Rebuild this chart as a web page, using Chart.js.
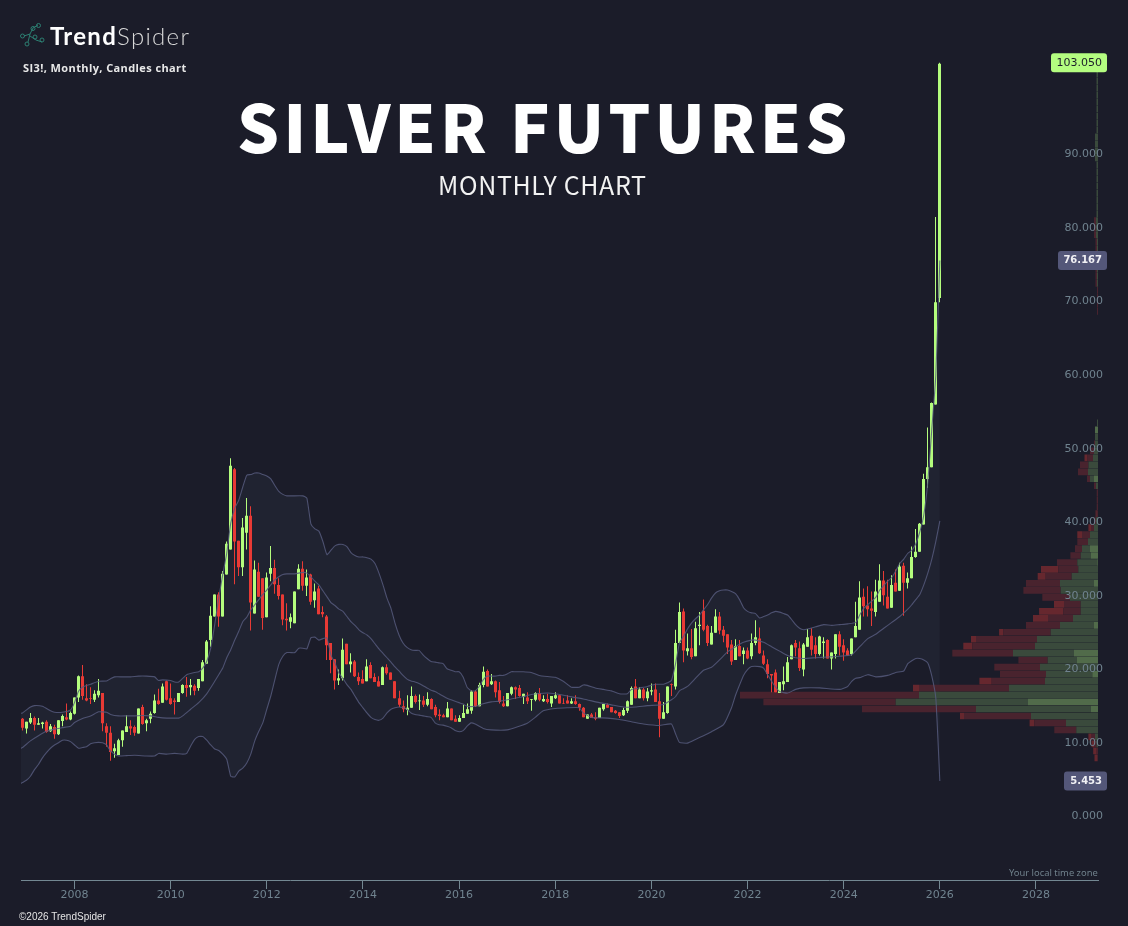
<!DOCTYPE html>
<html>
<head>
<meta charset="utf-8">
<title>Silver Futures Monthly Chart</title>
<script src="https://cdn.jsdelivr.net/npm/chart.js@4/dist/chart.umd.min.js"></script>
<style>
  html, body { margin: 0; padding: 0; background: #1b1c29; }
  #wrap { position: relative; width: 1128px; height: 926px; overflow: hidden; }
  canvas { position: absolute; left: 0; top: 0; }
  .txt { position: absolute; white-space: nowrap; line-height: 1; }
  #headline { left: 237px; top: 76px; font: 900 66px "Noto Sans CJK JP"; letter-spacing: 4.05px; color: #fff; }
  #subline { left: 438px; top: 166px; font: 400 25px "Noto Sans CJK JP"; letter-spacing: .65px; color: #f2f2f2; }
  #brand { left: 50px; top: 21px; font: 700 24px Lato; color: #fff; letter-spacing: 1.3px; }
  #brand span { font-weight: 300; color: #d8d8d8; }
  #symbol { left: 23px; top: 60px; font: 700 11px "Open Sans"; color: #e8e8e8; letter-spacing: .4px; }
  #copyright { left: 19px; top: 911px; font: 400 10px "Liberation Sans"; color: #e4e4e4; }
  #zone { left: 1009px; top: 866px; font: 400 9.4px "Noto Sans"; color: #6f808b; }
  #logo { position: absolute; left: 18px; top: 22px; }
</style>
</head>
<body>
<div id="wrap">
  <canvas id="chart" width="1128" height="926"></canvas>
  <svg id="logo" width="28" height="28" viewBox="0 0 28 28" fill="none" stroke="#2c7f72" stroke-width="1">
    <path d="M6 14 L12 12 M12 12 L15 6 M12 12 L10 20 M15 6 L20 3 M12 14 L18 18 M18 18 L24 20"/>
    <circle cx="4.5" cy="14" r="2"/><circle cx="9" cy="22" r="2"/><circle cx="15" cy="6.5" r="2"/>
    <circle cx="20.5" cy="3.5" r="2"/><circle cx="17" cy="15" r="2"/><circle cx="24" cy="18" r="2"/>
  </svg>
  <div class="txt" id="brand">Trend<span>Spider</span></div>
  <div class="txt" id="symbol">SI3!, Monthly, Candles chart</div>
  <div class="txt" id="headline">SILVER FUTURES</div>
  <div class="txt" id="subline">MONTHLY CHART</div>
  <div class="txt" id="zone">Your local time zone</div>
  <div class="txt" id="copyright">©2026 TrendSpider</div>
</div>
<script>
// Monthly candles, Dec 2006 to Jan 2026
const opens = [
  13.9,12.6,13.4,14.0,13.1,13.2,13.5,12.2,12.8,11.8,13.6,14.1,13.8,
  14.6,16.8,19.7,16.7,16.7,16.5,17.1,17.4,12.9,12.0,9.5,9.0,
  11.0,12.1,12.9,12.8,11.9,15.5,13.3,13.9,14.7,16.4,16.1,19.0,
  16.7,16.4,16.2,17.4,18.5,18.2,18.4,18.1,19.0,21.4,24.6,27.8,
  30.8,27.8,33.5,36.9,47.8,38.1,34.5,39.2,41.5,28.2,33.9,33.0,
  27.7,33.6,34.4,32.1,30.8,27.5,27.1,26.9,31.5,34.3,32.0,33.5,
  30.0,31.6,28.4,27.8,24.2,22.0,19.1,19.4,24.1,21.3,21.7,19.6,
  19.3,19.0,21.2,19.6,19.0,18.5,20.9,20.2,19.0,16.7,15.6,15.1,
  15.4,17.0,16.3,16.4,15.8,16.6,15.5,14.5,14.4,14.1,15.3,13.9,
  13.5,14.0,14.6,15.0,17.6,15.6,18.5,20.4,18.6,19.0,17.8,16.0,
  15.6,17.3,18.2,18.1,16.9,16.8,16.5,16.5,17.4,16.3,16.6,16.0,
  16.7,17.1,16.0,16.4,16.0,16.3,15.9,15.4,13.9,14.5,14.1,14.0,
  15.2,15.8,15.5,15.0,14.8,14.4,15.0,15.8,18.3,16.7,17.9,16.7,
  17.6,17.9,16.3,13.9,14.7,18.6,18.3,24.2,28.5,23.1,23.5,22.4,
  26.5,28.6,26.5,24.0,25.6,27.8,26.0,25.4,24.0,21.9,23.8,22.7,
  23.2,22.4,24.2,24.8,22.5,21.3,20.0,20.2,17.4,18.6,18.9,22.0,
  24.2,23.5,20.6,23.7,25.2,23.9,22.7,24.2,24.6,22.1,22.7,25.4,
  23.9,23.2,22.7,25.0,26.0,30.5,29.3,28.9,28.4,29.8,32.7,30.5,
  29.0,32.4,31.3,34.7,32.4,33.0,35.9,36.6,40.3,46.5,48.1,56.6,71.1
];
const highs = [
  14.0,13.5,14.7,14.2,14.0,13.5,13.7,13.2,13.1,13.7,14.5,16.0,14.9,
  16.8,19.8,21.2,18.6,18.2,17.8,19.3,17.4,13.3,12.9,10.5,11.2,
  12.3,14.4,13.7,13.0,15.3,15.8,13.9,14.9,17.2,18.0,18.7,19.1,
  18.7,16.7,17.4,18.6,19.6,19.3,18.6,19.3,21.9,24.6,29.2,30.8,
  31.1,34.0,38.0,49.3,48.0,38.1,41.2,43.9,42.8,35.4,35.1,33.0,
  33.8,37.4,35.5,33.0,30.8,29.6,28.2,31.2,34.9,35.3,34.2,33.6,
  32.3,32.0,29.2,28.0,24.2,22.0,20.6,24.8,24.1,22.8,21.9,20.2,
  20.5,22.0,21.6,20.1,19.7,21.0,21.3,20.2,19.0,17.7,16.4,17.1,
  18.3,17.2,17.2,17.0,17.5,16.7,15.8,15.2,14.6,16.2,15.3,14.4,
  14.4,15.8,16.0,17.8,17.8,18.8,21.0,20.6,20.0,19.1,18.9,17.0,
  17.4,18.3,18.3,18.5,17.3,17.5,16.6,17.5,18.1,17.1,17.3,17.0,
  17.5,17.1,16.7,17.1,16.7,17.1,16.0,15.5,14.5,14.7,14.8,15.4,
  15.9,16.0,15.5,15.1,14.8,15.4,16.4,18.3,19.3,18.2,18.1,18.1,
  18.7,18.7,17.4,16.2,18.3,18.7,26.0,29.7,28.9,25.5,26.1,27.1,
  28.4,30.1,26.7,26.5,28.8,28.4,26.5,25.4,24.6,24.7,24.6,23.6,
  23.6,25.5,27.3,26.3,23.2,22.0,20.0,20.6,18.9,21.0,22.3,24.0,
  24.6,24.4,24.2,26.1,26.2,25.0,25.2,25.0,24.7,22.9,25.4,25.8,
  24.7,23.5,24.8,29.8,32.6,31.6,31.9,31.2,32.8,34.9,34.0,32.8,
  33.4,34.2,35.1,35.1,33.8,37.3,39.7,40.5,47.2,53.5,56.9,82.1,103.05
];
const lows = [
  12.3,11.9,13.2,12.3,13.1,12.6,12.0,12.1,11.2,11.7,12.9,13.7,13.7,
  14.5,16.2,16.5,16.3,15.9,16.2,16.8,12.2,10.1,8.2,8.6,9.0,
  10.1,12.1,11.7,11.6,11.9,13.1,12.2,13.3,14.6,15.8,16.1,16.4,
  15.8,14.5,16.2,17.3,16.9,17.1,17.1,17.7,19.0,21.4,23.7,27.8,
  26.4,27.8,33.5,36.9,32.2,33.3,33.3,36.9,25.9,28.2,30.5,26.0,
  27.7,32.6,30.9,30.1,26.6,25.9,26.2,26.9,31.5,31.3,30.6,29.4,
  29.0,28.1,27.7,21.9,20.1,17.9,18.5,19.1,21.3,20.2,19.6,18.5,
  18.7,19.0,19.4,18.9,18.3,18.5,19.9,19.2,16.7,15.5,14.8,14.4,
  15.4,16.0,15.1,15.5,15.6,15.2,14.1,13.7,14.1,14.1,13.7,13.5,
  13.5,14.0,14.6,14.6,15.5,15.6,18.2,18.3,18.5,16.8,16.0,15.5,
  15.6,17.1,16.6,16.9,15.9,15.9,15.0,16.3,16.3,16.2,16.0,15.5,
  16.6,16.0,15.9,16.0,15.9,15.8,15.0,14.1,13.9,14.0,13.7,14.0,
  15.0,15.4,14.8,14.6,14.0,14.3,14.7,15.8,16.7,16.7,16.4,16.3,
  17.1,16.2,11.4,13.9,14.6,17.0,17.9,24.2,21.6,22.5,22.0,22.4,
  23.9,25.8,23.8,24.0,25.6,25.4,24.3,22.7,21.2,21.9,22.4,21.3,
  22.0,22.0,23.9,22.7,21.2,19.4,17.5,17.5,17.4,17.8,18.9,22.0,
  22.4,20.4,19.7,23.7,22.5,22.1,22.5,22.1,22.1,20.6,22.1,22.5,
  21.8,22.5,22.5,25.0,26.0,27.8,27.8,26.5,27.8,29.8,29.3,28.9,
  29.0,31.2,31.3,27.9,31.6,33.0,35.8,36.6,40.3,45.3,48.1,56.6,70.5
];
const closes = [
  12.7,13.5,14.0,13.1,13.3,13.4,12.1,12.9,11.8,13.7,14.3,13.8,14.7,
  16.8,19.7,17.0,16.4,16.6,17.3,17.7,13.3,12.0,9.4,9.9,11.0,
  12.3,12.9,12.6,12.0,15.3,13.2,13.7,14.6,16.4,15.9,18.3,16.5,
  15.9,16.2,17.4,18.5,18.1,18.5,17.7,19.3,21.6,24.4,27.9,30.8,
  27.8,33.6,37.7,48.3,38.0,34.5,39.9,41.5,29.7,34.2,30.5,27.6,
  33.1,34.4,32.2,30.6,27.4,27.3,27.7,31.2,34.3,32.0,33.1,29.8,
  31.2,28.1,28.1,23.9,21.9,19.1,19.4,23.3,21.3,21.7,19.7,19.0,
  18.7,21.0,19.4,18.9,18.3,20.9,20.1,19.2,16.7,15.8,15.2,15.4,
  17.0,16.2,16.4,15.8,16.6,15.2,14.4,14.3,14.1,15.3,13.7,13.5,
  14.0,14.7,15.2,17.6,15.6,18.5,20.3,18.3,19.0,17.5,16.2,15.6,
  17.4,18.2,17.9,17.0,17.3,16.3,16.6,17.4,16.5,16.6,16.2,17.0,
  17.1,16.0,15.9,16.0,16.3,15.9,15.4,14.1,14.5,14.0,13.9,15.4,
  15.9,15.4,14.8,14.7,14.3,15.1,16.3,18.1,16.7,17.9,16.7,17.6,
  17.8,16.2,13.9,14.8,18.3,18.5,24.2,28.4,23.2,23.5,22.3,26.2,
  26.7,26.0,24.2,25.6,27.8,25.9,25.2,23.6,21.7,23.8,22.4,23.2,
  22.1,24.2,25.0,22.8,21.4,20.0,19.8,17.5,18.9,19.0,21.6,23.9,
  23.6,20.8,24.0,25.0,23.3,22.7,25.1,24.4,22.1,22.9,25.4,23.7,
  22.9,22.5,24.8,26.5,30.4,29.2,28.8,28.6,31.2,32.7,30.7,28.9,
  32.1,31.2,34.6,32.4,33.0,35.9,36.6,40.4,46.5,48.1,56.8,70.5,102.9
];

// Bollinger bands, read at the months where the curve bends (months counted from Jan 2008)
const upperMonths = [
  -14,-13,-11,-10,-8,-6,-5,-3,-1,0,1,2,4,6,8,9,10,12,14,16,18,20,21,22,24,25,26,27,28,30,31,32,33,34,35,36,37,38,39,40,41,42,43,44,45,46,47,48,49,50,51,52,53,57,58,59,60,61,62,63,64,65,66,67,68,69,70,71,72,73,74,75,76,77,78,79,80,81,82,83,84,85,86,87,88,89,90,91,92,93,94,95,96,97,98,99,100,101,102,103,105,106,107,108,109,110,112,114,116,118,120,122,123,124,126,127,128,130,132,134,136,138,139,141,143,145,147,148,149,150,151,152,153,154,155,156,157,158,159,160,161,162,163,164,165,166,167,168,169,170,171,172,173,174,175,176,177,178,179,180,181,182,183,185,187,189,191,193,195,196,197,198,199,200,201,202,203,204,205,206,207,208,209,210,211,212,213,214,215,216
];
const upperValues = [
  14.6,14.7,15.5,15.7,15.6,15.0,14.8,14.8,15.1,16.1,17.65,18.2,18.6,19.0,19.05,19.35,19.6,19.6,19.6,19.7,19.7,19.6,19.1,19.2,19.1,18.9,18.9,19.4,19.9,20.2,20.3,20.8,21.7,23.5,26.7,30.3,33.5,36.4,40.5,42.5,43.6,45.4,47.0,47.1,47.3,47.3,47.1,46.9,46.5,45.6,44.8,44.4,44.2,44.2,43.9,40.4,39.7,39.4,38.0,36.2,36.8,37.4,37.6,37.6,37.3,36.5,36.1,35.9,35.9,35.8,35.6,35.0,33.7,32.1,30.3,28.9,26.9,25.3,24.2,23.6,23.3,23.2,23.2,22.6,22.1,21.7,21.6,21.5,21.4,20.7,20.5,20.3,20.3,19.6,18.2,17.7,17.7,18.3,19.2,19.7,19.7,19.8,19.8,20.0,20.3,20.3,20.3,20.2,19.8,19.65,19.55,19.0,18.6,18.2,18.2,18.5,18.45,18.1,17.9,17.7,17.3,17.3,17.9,18.1,18.3,18.6,18.6,18.8,19.1,21.3,24.2,25.1,26.1,26.9,27.5,28.0,28.7,29.4,30.3,31.0,31.3,31.4,31.4,31.2,30.9,30.1,29.0,28.5,28.3,28.2,27.6,27.8,28.0,28.3,28.5,28.4,28.2,28.0,27.4,26.7,26.2,26.0,26.1,26.4,26.7,26.6,26.7,26.8,27.0,28.0,28.9,29.4,29.9,30.4,31.4,32.0,32.6,33.1,34.0,35.0,35.6,36.4,36.8,37.7,39.3,41.6,46.1,53.3,60.6,76.167
];
const middleMonths = [
  -14,-13,-11,-9,-7,-5,-3,-1,0,2,4,6,7,8,9,11,13,15,17,19,21,23,25,26,27,29,31,33,35,36,37,38,39,40,41,42,43,44,45,46,47,48,49,50,51,52,53,55,57,58,59,60,61,62,63,64,65,66,67,68,69,70,71,72,73,74,75,76,77,78,79,80,81,82,83,84,85,86,87,88,89,90,91,92,93,94,95,96,97,98,100,102,104,106,109,112,114,118,120,123,127,131,134,137,140,143,147,149,150,151,152,153,155,157,159,161,163,165,167,169,170,172,174,176,178,180,182,185,188,191,194,196,198,200,202,204,206,207,208,209,210,211,212,213,214,215,216
];
const middleValues = [
  9.7,10.0,10.9,11.6,12.2,12.5,12.7,12.9,13.4,13.95,14.3,14.85,14.85,14.8,14.5,14.3,14.3,14.3,14.35,14.3,14.1,14.0,14.0,14.0,14.3,15.2,16.1,17.3,19.0,19.9,20.8,22.2,23.3,24.6,25.8,27.1,27.7,28.7,29.4,30.1,30.8,31.4,32.1,32.8,33.2,33.5,33.6,33.6,33.8,33.7,33.2,32.6,32.1,31.3,30.5,29.7,29.3,28.8,28.5,27.8,27.1,26.6,26.0,25.6,25.3,24.8,24.1,23.4,22.8,22.2,21.6,20.95,20.4,19.8,19.3,19.05,18.9,18.7,18.4,18.1,17.8,17.6,17.3,17.0,16.7,16.5,16.3,16.1,15.9,15.6,15.6,15.95,16.2,16.3,16.6,16.9,17.2,17.4,17.3,17.0,16.6,16.1,15.8,15.5,15.5,15.7,15.85,16.5,16.9,17.7,18.0,18.3,19.4,20.5,20.9,21.9,23.0,23.7,24.3,24.6,24.6,24.3,23.7,23.1,22.5,22.2,22.1,22.2,22.3,22.4,22.6,23.7,24.8,25.4,26.2,27.0,27.8,28.3,28.8,29.4,30.1,30.8,32.1,33.7,35.6,38.0,40.81
];
const lowerMonths = [
  -14,-13,-12,-11,-10,-9,-8,-7,-6,-5,-4,-3,-2,-1,0,1,2,3,4,5,6,7,8,9,10,11,13,15,18,20,21,23,25,27,28,29,30,31,32,33,34,35,36,37,38,39,40,41,42,43,44,45,46,47,48,49,50,51,52,53,54,55,56,57,58,59,60,61,62,63,64,65,66,67,68,69,70,71,72,73,74,75,76,77,78,79,80,81,82,83,84,85,86,87,88,89,90,91,92,93,94,95,96,97,98,99,100,102,104,108,111,113,115,117,120,123,126,127,129,133,136,139,142,146,149,150,151,153,155,157,159,162,164,165,166,167,168,169,171,172,173,174,175,176,178,180,182,186,191,193,194,195,196,198,200,203,205,207,208,209,210,211,212,213,214,215,216
];
const lowerValues = [
  4.9,5.24,5.56,6.1,7.0,7.7,8.6,9.3,9.9,10.35,10.66,11.0,11.0,10.8,10.35,9.9,10.0,10.1,10.5,10.66,10.7,10.66,10.35,9.5,9.1,8.85,8.9,8.95,8.85,8.85,9.2,9.1,9.2,9.1,9.2,10.2,11.1,11.5,11.5,11.0,10.35,9.8,9.6,9.1,8.4,6.1,6.0,6.8,7.2,7.9,9.1,10.9,12.2,13.35,15.2,17.0,19.2,21.3,22.4,22.9,22.9,22.9,23.5,23.5,23.4,24.9,25.0,24.6,24.8,24.9,22.6,21.5,20.1,19.4,18.55,17.9,17.0,16.1,15.4,14.7,14.1,13.8,13.7,14.0,14.7,15.2,15.4,15.5,15.4,15.2,14.7,14.5,14.4,14.3,14.2,14.1,13.35,13.1,13.05,12.9,12.7,12.3,12.15,12.3,12.9,13.35,13.2,12.6,12.4,12.4,12.9,13.3,14.1,15.0,15.3,15.4,15.4,14.7,14.1,14.0,13.8,13.5,13.2,13.0,13.2,11.9,10.7,10.6,11.1,11.6,12.15,13.1,15.4,17.1,18.5,19.8,20.6,21.0,21.0,20.8,19.9,19.0,18.2,17.6,17.4,17.9,18.1,18.1,17.9,18.3,19.0,19.4,19.5,19.9,19.6,19.8,20.2,20.4,21.4,21.8,22.1,22.1,21.9,21.5,19.7,16.7,5.453
];

// Volume profile, 100 price rows from the bottom up
const profileLow = 8.6;
const profileStep = 0.948;
const profileBrightGreen = [
  0,0,0,0,0,0,0,7.3,70,0,0,0,5.7,0,21.3,24,0,0,0,4,0,0,0,0,0,4,0,0,0.7,7.3,8,0,0,0,0,0,0,0,0,0,4,0,0,0,0,0,0,3,0,0,
  0,0,0,0,0,0,0,0,0,0,0,0,0,0,0,0,0,0,0,0,0,0,0,0,0,0,0,0,0,0,0,0,0,0,0,0,0,0,0,0,0,0,0,0,0,0,0,0,0,0
];
const profileGreen = [
  0,0,1.5,3,21.7,32,67,114.7,132.3,179,89,53,46.3,58,29,61,63,61,47.3,34,25,17.3,17.3,28,37.3,34,26.3,19.7,20,10,8,10,8,4,2,0,0,0,0,2,4,10,9.5,5,4,3,3,0,1,0,
  0,0,0,0,0,0,0,0,0,0,0,0,0,0,0,0,0,0,1,1,1,1,1,1,1,2,2,2,1.5,1.5,1.5,1.5,1.5,1.5,1.5,1.5,3,3,3,3,1.5,1.5,1.5,1.5,1.5,1.5,1.5,1.5,1.5,1
];
const profileRed = [
  1,1.3,2,3.3,22,31.7,67,114,132.3,179,89.3,53.3,46,45.7,29.3,60.7,62.7,61,47.3,34,25,17.3,16.7,27.7,37.3,34,26,20,20.3,10.3,7,10.7,8,2.3,2,1.2,1.3,1.3,1.3,2,3,10,8.5,5.5,4,1,0,0,0,0,
  0,0,0,0,0,0,0,0,0,0,0,0,0,0,1,1,1,1,1.5,1.5,1.5,1.5,1.5,1.5,1.5,2,2,2,0,0,0,0,0,0,0,0,0,0,0,0,0,0,0,0,0,0,0,0,0,0
];
const profileBrightRed = [
  2.5,3.5,3,3.3,0,4.7,4,0,0,0,6.7,12.3,0,0,0,0,9,5,4.3,0,15,24.3,10,0,0,0,8,17.3,0,0,0,0,4.7,3.3,0,1.2,0,0,0,0,0,0,0,3,0,0,0,0,0,0,
  0,0,0,0,0,0,0,0,0,0,0,0,0,0,0,0,0,0,0,0,0,0,0,0,0,0,0,0,0,0,0,0,0,0,0,0,0,0,0,0,0,0,0,0,0,0,0,0,0,0
];

const yTicks = [0, 10, 20, 30, 40, 50, 60, 70, 80, 90];
const xTickYears = [2008, 2010, 2012, 2014, 2016, 2018, 2020, 2022, 2024, 2026, 2028];
const priceTags = [
  { value: 103.05, text: '103.050', width: 56, bg: '#b4fd80', color: '#1b1c29', font: '11px "DejaVu Sans"' },
  { value: 76.167, text: '76.167', width: 49, bg: '#545779', color: '#f0f0f4', font: 'bold 10px "DejaVu Sans"' },
  { value: 5.453, text: '5.453', width: 43, bg: '#545779', color: '#f0f0f4', font: 'bold 10px "DejaVu Sans"' }
];

const UP = '#b4fd7d';
const DOWN = '#e83a35';
const AXIS = '#738892';
const LABEL = '#70838f';
const BAND_LINE = 'rgba(86, 90, 125, 0.85)';

// x axis runs in decimal years, months are counted from Jan 2008
const monthToYear = (m) => 2008 + m / 12;
const candleYears = opens.map((_, i) => monthToYear(i - 13));
const candleColors = opens.map((o, i) => (closes[i] >= o ? UP : DOWN));
const profilePrices = profileGreen.map((_, i) => profileLow + profileStep * i);

const bandData = (months, values) => months.map((m, i) => ({ x: monthToYear(m), y: values[i] }));
const candleData = (a, b) => candleYears.map((x, i) => ({ x: x, y: [a[i], b[i]] }));
const profileData = (widths) => profilePrices.map((p, i) => ({ x: widths[i], y: p }));

const bandLine = (label, months, values, extra) => ({
  type: 'line',
  label: label,
  data: bandData(months, values),
  borderColor: BAND_LINE,
  borderWidth: 1.1,
  pointRadius: 0,
  tension: 0.15,
  fill: false,
  order: 0,
  ...extra
});

const profileBar = (label, widths, color) => ({
  type: 'bar',
  label: label,
  indexAxis: 'y',
  xAxisID: 'xVol',
  yAxisID: 'y',
  stack: 'profile',
  grouped: false,
  inflateAmount: 0,
  data: profileData(widths),
  backgroundColor: color,
  barThickness: 6.7,
  order: 3
});

// keeps candle bodies and wicks on whole pixels so they stay crisp
const crispCandlesPlugin = {
  id: 'crispCandles',
  beforeDatasetsDraw(chart) {
    chart.data.datasets.forEach((ds, i) => {
      if (ds.label !== 'Wicks' && ds.label !== 'Candles') return;
      chart.getDatasetMeta(i).data.forEach((bar) => {
        bar.x = Math.floor(bar.x) + 0.5;
      });
    });
  }
};

// draws the boxed price labels on the right of the chart
const priceTagPlugin = {
  id: 'priceTags',
  afterDraw(chart) {
    const ctx = chart.ctx;
    const yScale = chart.scales.y;
    priceTags.forEach((tag) => {
      const y = yScale.getPixelForValue(tag.value);
      const right = 1107;
      ctx.save();
      ctx.fillStyle = tag.bg;
      ctx.beginPath();
      ctx.roundRect(right - tag.width, y - 9.5, tag.width, 19, 3);
      ctx.fill();
      ctx.fillStyle = tag.color;
      ctx.font = tag.font;
      ctx.textAlign = 'right';
      ctx.textBaseline = 'middle';
      ctx.fillText(tag.text, right - 5, y);
      ctx.restore();
    });
  }
};

new Chart(document.getElementById('chart').getContext('2d'), {
  data: {
    datasets: [
      bandLine('Upper band', upperMonths, upperValues, {
        fill: '+2',
        backgroundColor: 'rgba(40, 44, 60, 0.45)'
      }),
      bandLine('Middle band', middleMonths, middleValues),
      bandLine('Lower band', lowerMonths, lowerValues),
      {
        type: 'bar',
        label: 'Wicks',
        data: candleData(lows, highs),
        backgroundColor: candleColors,
        barThickness: 1,
        grouped: false,
        inflateAmount: 0,
        order: 2
      },
      {
        type: 'bar',
        label: 'Candles',
        data: candleData(opens, closes),
        backgroundColor: candleColors,
        barThickness: 3,
        grouped: false,
        inflateAmount: 0,
        order: 1
      },
      profileBar('Buy peak', profileBrightGreen, 'rgba(84, 112, 76, 0.95)'),
      profileBar('Buy', profileGreen, 'rgba(60, 77, 61, 0.95)'),
      profileBar('Sell', profileRed, 'rgba(76, 36, 46, 0.95)'),
      profileBar('Sell peak', profileBrightRed, 'rgba(106, 40, 46, 0.95)')
    ]
  },
  options: {
    responsive: false,
    animation: false,
    layout: { padding: { left: 21, top: 9, right: 0, bottom: 0 } },
    plugins: {
      legend: { display: false },
      tooltip: { enabled: false },
      title: { display: false },
      filler: { drawTime: 'beforeDatasetsDraw' }
    },
    scales: {
      x: {
        type: 'linear',
        position: 'bottom',
        min: 2006.887,
        max: 2029.29,
        offset: false,
        afterBuildTicks: (axis) => { axis.ticks = xTickYears.map((v) => ({ value: v })); },
        afterFit: (axis) => { axis.height = 46; },
        border: { display: true, color: AXIS, width: 1 },
        grid: { display: true, drawOnChartArea: false, drawTicks: true, tickLength: 9, color: AXIS, tickColor: AXIS, offset: false },
        ticks: {
          callback: (v) => String(v),
          color: LABEL,
          font: { family: 'DejaVu Sans', size: 11 },
          padding: 0,
          maxRotation: 0,
          autoSkip: false
        }
      },
      xVol: {
        type: 'linear',
        display: false,
        reverse: true,
        min: 0,
        max: 1077,
        offset: false,
        grid: { display: false, offset: false }
      },
      y: {
        type: 'linear',
        position: 'right',
        min: -8,
        max: 110,
        offset: false,
        afterBuildTicks: (axis) => { axis.ticks = yTicks.map((v) => ({ value: v })); },
        afterFit: (axis) => { axis.width = 30; },
        border: { display: false },
        grid: { display: false, drawTicks: false, offset: false },
        ticks: {
          mirror: true,
          padding: 5,
          labelOffset: -4.5,
          z: 1,
          callback: (v) => v.toFixed(3),
          color: LABEL,
          font: { family: 'DejaVu Sans', size: 11 },
          autoSkip: false
        }
      }
    }
  },
  plugins: [crispCandlesPlugin, priceTagPlugin]
});
</script>
</body>
</html>
